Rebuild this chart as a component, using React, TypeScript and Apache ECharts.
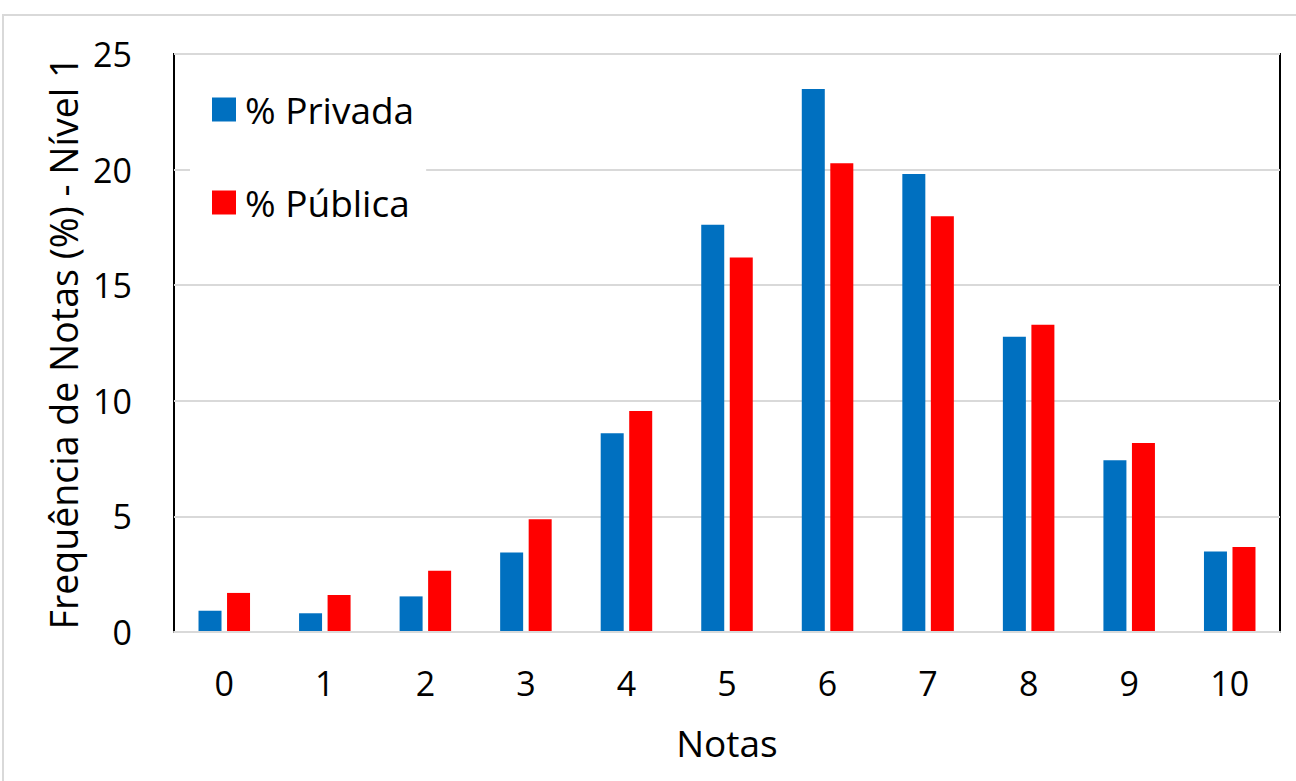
import React, { useEffect, useRef } from "react";
import * as echarts from "echarts";

const categories = ["0", "1", "2", "3", "4", "5", "6", "7", "8", "9", "10"];
const privada = [0.92, 0.81, 1.54, 3.44, 8.6, 17.62, 23.49, 19.81, 12.77, 7.43, 3.48];
const publica = [1.69, 1.6, 2.65, 4.88, 9.56, 16.2, 20.27, 17.98, 13.29, 8.17, 3.68];
const seriesNames = ["% Privada", "% Pública"];
const xTitle = "Notas";
const yTitle = "Frequência de Notas (%) - Nível 1";

const FONT = "'Open Sans', 'Liberation Sans', Arial, sans-serif";

export default function App() {
  const ref = useRef<HTMLDivElement>(null);
  useEffect(() => {
    if (!ref.current) return;
    const chart = echarts.init(ref.current, undefined, { renderer: "svg" });
    chart.setOption({
      animation: false,
      backgroundColor: "#ffffff",
      textStyle: { fontFamily: FONT },
      graphic: [
        {
          type: "rect",
          shape: { x: 3, y: 15, width: 1310, height: 800 },
          style: { fill: "none", stroke: "#d9d9d9", lineWidth: 2 },
          silent: true,
          z: -1,
        },
      ],
      grid: {
        left: 174,
        right: 16,
        top: 54,
        bottom: 149,
        show: true,
        borderColor: "#000000",
        borderWidth: 2,
        backgroundColor: "transparent",
      },
      legend: {
        orient: "vertical",
        left: 190,
        top: 73,
        padding: [18, 12, 20, 22],
        backgroundColor: "#ffffff",
        itemWidth: 24,
        itemHeight: 24,
        itemGap: 56,
        icon: "rect",
        textStyle: { fontSize: 37, lineHeight: 36, color: "#000", fontFamily: FONT, padding: [0, 0, 0, 4] },
        data: seriesNames,
        z: 10,
      },
      xAxis: {
        type: "category",
        data: categories,
        name: xTitle,
        nameLocation: "middle",
        nameGap: 92,
        nameTextStyle: { fontSize: 37, color: "#000", fontFamily: FONT },
        axisLine: { show: true, lineStyle: { color: "#d9d9d9", width: 2 } },
        axisTick: { show: false },
        axisLabel: { fontSize: 34, color: "#000", margin: 34, fontFamily: FONT },
        z: 5,
      },
      yAxis: {
        type: "value",
        min: 0,
        max: 25,
        interval: 5,
        name: yTitle,
        nameLocation: "middle",
        nameGap: 90,
        nameRotate: 90,
        nameTextStyle: { fontSize: 37.5, color: "#000", fontFamily: FONT },
        axisLine: { show: false },
        axisTick: { show: false },
        axisLabel: { fontSize: 34, color: "#000", margin: 42, fontFamily: FONT },
        splitLine: { show: true, lineStyle: { color: "#d9d9d9", width: 2 } },
      },
      series: [
        {
          name: seriesNames[0],
          type: "bar",
          data: privada,
          barWidth: 23,
          barGap: "24%",
          itemStyle: { color: "#0070C0" },
        },
        {
          name: seriesNames[1],
          type: "bar",
          data: publica,
          barWidth: 23,
          barGap: "24%",
          itemStyle: { color: "#FF0000" },
        },
      ],
    });
    return () => chart.dispose();
  }, []);
  return (
    <div
      ref={ref}
      style={{ position: "fixed", left: 0, top: 0, width: 1296, height: 781 }}
    />
  );
}
